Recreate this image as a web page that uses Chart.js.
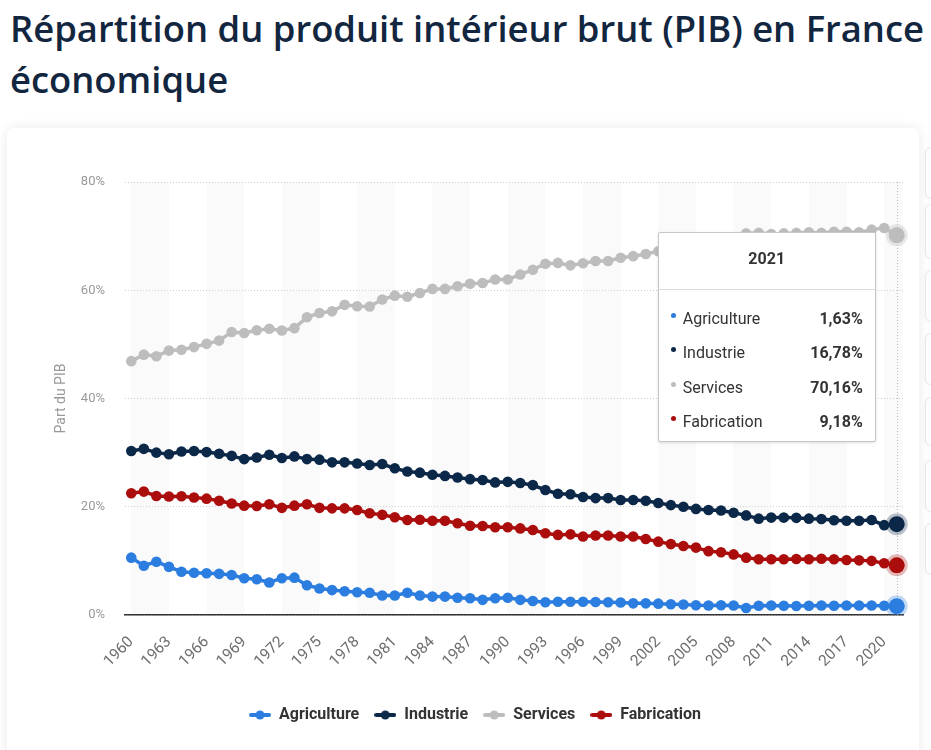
<!DOCTYPE html>
<html lang="fr">
<head>
<meta charset="utf-8">
<script src="https://cdn.jsdelivr.net/npm/chart.js@4.4.0/dist/chart.umd.min.js"></script>
<style>
html,body{margin:0;padding:0;background:#fff;width:931px;height:750px;overflow:hidden;font-family:Roboto,sans-serif;}
#title{position:absolute;left:10px;top:3px;margin:0;font-family:"Open Sans",sans-serif;font-weight:600;font-size:36.4px;line-height:51px;color:#12263f;white-space:nowrap;}
#card{position:absolute;left:7px;top:128px;width:912px;height:640px;background:#fff;border-radius:6px;box-shadow:0 0 12px rgba(0,0,0,0.09);}
#chart{position:absolute;left:0;top:0;}
.side{position:absolute;left:925px;width:30px;background:#fff;border:1px solid #e9e9e9;border-radius:6px;box-shadow:0 0 4px rgba(0,0,0,0.04);}
#tt{position:absolute;width:218px;box-sizing:border-box;background:#fff;border:1px solid #c6c6c6;border-radius:2px;box-shadow:0 1px 3px rgba(0,0,0,0.12);font-family:Roboto,sans-serif;color:#333;display:none;}
#tt .t{height:57px;box-sizing:border-box;padding-top:13px;line-height:26px;text-align:center;font-weight:bold;font-size:16px;border-bottom:1px solid #dcdcdc;}
#tt .b{padding:11px 12px 2px 12px;}
#tt .r{height:34.5px;display:flex;align-items:center;font-size:16px;}
#tt .d{width:5px;height:5px;border-radius:50%;margin-right:7px;margin-top:-6px;}
#tt .l{flex:1;}
#tt .v{font-weight:bold;}
</style>
</head>
<body>
<h1 id="title">Répartition du produit intérieur brut (PIB) en France<br>économique</h1>
<div class="side" style="top:147px;height:50px"></div>
<div class="side" style="top:204px;height:53px"></div>
<div class="side" style="top:270px;height:50px"></div>
<div class="side" style="top:333px;height:50px"></div>
<div class="side" style="top:397px;height:47px"></div>
<div class="side" style="top:460px;height:50px"></div>
<div class="side" style="top:523px;height:50px"></div>
<div id="card">
  <canvas id="chart" width="912" height="622" style="width:912px;height:622px"></canvas>
  <div id="tt"></div>
</div>
<script>
const years = [1960,1961,1962,1963,1964,1965,1966,1967,1968,1969,1970,1971,1972,1973,1974,1975,1976,1977,1978,1979,1980,1981,1982,1983,1984,1985,1986,1987,1988,1989,1990,1991,1992,1993,1994,1995,1996,1997,1998,1999,2000,2001,2002,2003,2004,2005,2006,2007,2008,2009,2010,2011,2012,2013,2014,2015,2016,2017,2018,2019,2020,2021];

const agriculture = [10.6,9.1,9.85,8.9,8.0,7.8,7.7,7.6,7.4,6.8,6.6,6.0,6.8,6.9,5.5,4.9,4.6,4.4,4.2,4.1,3.6,3.6,4.1,3.6,3.4,3.4,3.2,3.1,2.8,3.1,3.2,2.8,2.6,2.35,2.45,2.45,2.45,2.4,2.35,2.3,2.15,2.15,2.1,2.0,1.95,1.8,1.75,1.8,1.75,1.3,1.7,1.75,1.7,1.65,1.7,1.75,1.7,1.75,1.75,1.75,1.7,1.63];

const industrie = [30.3,30.7,30.0,29.7,30.2,30.3,30.1,29.8,29.4,28.8,29.1,29.6,29.0,29.3,28.8,28.7,28.2,28.2,28.0,27.7,27.9,27.1,26.5,26.3,25.9,25.7,25.4,25.1,24.95,24.5,24.6,24.4,24.0,23.1,22.4,22.3,21.8,21.6,21.6,21.25,21.25,21.1,20.7,20.3,20.0,19.6,19.4,19.3,18.9,18.4,17.8,18.0,18.0,17.95,17.8,17.75,17.5,17.4,17.4,17.55,16.6,16.78];

const services = [46.9,48.1,47.8,48.85,49.0,49.5,50.1,50.7,52.3,52.1,52.6,52.9,52.55,53.0,55.0,55.8,56.1,57.3,57.05,57.0,58.3,59.0,58.8,59.5,60.25,60.25,60.75,61.2,61.35,62.0,62.0,62.9,63.8,64.9,65.05,64.6,65.0,65.4,65.4,66.0,66.3,66.7,67.2,67.5,68.0,68.3,68.5,68.8,69.4,70.5,70.6,70.4,70.5,70.6,70.7,70.6,70.8,70.8,70.7,71.2,71.5,70.16];

const fabrication = [22.5,22.8,22.0,21.9,21.95,21.7,21.5,21.1,20.6,20.2,20.15,20.45,19.8,20.2,20.45,19.8,19.7,19.7,19.4,18.8,18.5,18.05,17.55,17.6,17.4,17.4,16.95,16.5,16.45,16.2,16.2,16.0,15.7,15.1,14.8,14.9,14.5,14.7,14.7,14.5,14.5,14.05,13.55,13.1,12.75,12.45,11.8,11.6,11.2,10.6,10.3,10.3,10.3,10.35,10.3,10.4,10.3,10.15,10.1,10.0,9.55,9.18];

const seriesNames = ['Agriculture','Industrie','Services','Fabrication'];
const yTicks = [0,20,40,60,80];

const colors = ['#2b7de0','#0c2848','#bdbdbd','#ab0d0d'];
const halos = ['rgba(43,125,224,0.28)','rgba(12,40,72,0.28)','rgba(189,189,189,0.35)','rgba(171,13,13,0.28)'];
const seriesData = [agriculture, industrie, services, fabrication];

function legendIcon(color){
  const c = document.createElement('canvas');
  c.width = 22; c.height = 10;
  const g = c.getContext('2d');
  g.strokeStyle = color; g.lineWidth = 4; g.lineCap = 'round';
  g.beginPath(); g.moveTo(2,5); g.lineTo(20,5); g.stroke();
  g.fillStyle = color; g.beginPath(); g.arc(11,5,4.5,0,Math.PI*2); g.fill();
  return c;
}
const icons = colors.map(legendIcon);

const datasets = seriesNames.map((name,i)=>({
  label:name,
  data:seriesData[i],
  borderColor:colors[i],
  backgroundColor:colors[i],
  borderWidth:3.5,
  pointRadius:5.3,
  pointBorderWidth:0,
  pointBackgroundColor:colors[i],
  pointHoverRadius:8,
  pointHoverBorderWidth:6,
  pointHoverBorderColor:halos[i],
  pointHoverBackgroundColor:colors[i],
  tension:0
}));

const stripePlugin = {
  id:'stripes',
  beforeDraw(chart){
    const {ctx, chartArea:a, scales:{x}} = chart;
    ctx.save();
    ctx.fillStyle = '#fafafa';
    for(let k=0;k<years.length;k+=6){
      const x0 = x.getPixelForValue(k);
      const x1 = Math.min(x.getPixelForValue(k+3), a.right);
      ctx.fillRect(x0, a.top, x1-x0, a.bottom-a.top);
    }
    ctx.restore();
  },
  beforeDatasetsDraw(chart){
    const act = chart.getActiveElements();
    if(!act.length) return;
    const {ctx, chartArea:a} = chart;
    const px = act[0].element.x;
    ctx.save();
    ctx.strokeStyle = '#bbbbbb'; ctx.lineWidth = 1; ctx.setLineDash([1,2]);
    ctx.beginPath(); ctx.moveTo(Math.round(px)+0.5, a.top); ctx.lineTo(Math.round(px)+0.5, a.bottom); ctx.stroke();
    ctx.restore();
  }
};

function fmt(v){ return v.toFixed(2).replace('.',',') + '%'; }

const chart = new Chart(document.getElementById('chart'), {
  type:'line',
  data:{labels:years.map(String), datasets},
  plugins:[stripePlugin],
  options:{
    responsive:false,
    animation:false,
    events:[],
    layout:{padding:{top:54,left:40,right:16,bottom:17}},
    plugins:{
      tooltip:{enabled:false},
      legend:{
        position:'bottom',
        labels:{
          usePointStyle:true,
          pointStyleWidth:22,
          padding:15,
          color:'#333',
          font:{family:'Roboto',size:16,weight:'bold'},
          generateLabels(ch){
            const items = Chart.defaults.plugins.legend.labels.generateLabels(ch);
            items.forEach((it,i)=>{ it.pointStyle = icons[i]; it.fontColor = '#333'; });
            return items;
          }
        }
      }
    },
    scales:{
      x:{
        offset:true,
        grid:{display:false,drawTicks:false},
        border:{display:true,color:'#333',width:1.5},
        ticks:{
          autoSkip:false,maxRotation:45,minRotation:45,padding:18,
          color:'#6e6e6e',font:{family:'Roboto',size:15.5},
          callback:(v,i)=> (i%3===0 ? years[i] : null)
        },
        afterFit(s){ s.height = 77; }
      },
      y:{
        min:0,max:80,
        afterBuildTicks(s){ s.ticks = yTicks.map(v=>({value:v})); },
        ticks:{padding:20,color:'#999',font:{family:'Roboto',size:13},callback:v=>v+'%'},
        grid:{color:'#cfcfcf',drawTicks:false,lineWidth:1},
        border:{display:false,dash:[1,2]},
        title:{display:true,text:'Part du PIB',color:'#999',font:{family:'Roboto',size:14},padding:{top:6,bottom:0}},
        afterFit(s){ s.width = 78; }
      }
    }
  }
});

const last = years.length-1;
const active = seriesNames.map((n,i)=>({datasetIndex:i,index:last}));
chart.setActiveElements(active);
chart.update();

function renderTooltip(){
  const act = chart.getActiveElements();
  const tt = document.getElementById('tt');
  if(!act.length){ tt.style.display='none'; return; }
  const idx = act[0].index;
  const px = act[0].element.x;
  let html = '<div class="t">'+years[idx]+'</div><div class="b">';
  act.forEach(a=>{
    const i = a.datasetIndex;
    html += '<div class="r"><span class="d" style="background:'+colors[i]+'"></span><span class="l">'+seriesNames[i]+'</span><span class="v">'+fmt(seriesData[i][idx])+'</span></div>';
  });
  html += '</div>';
  tt.innerHTML = html;
  tt.style.display = 'block';
  tt.style.left = (px - 21 - 218) + 'px';
  tt.style.top = (chart.chartArea.top + 50) + 'px';
}
renderTooltip();
</script>
</body>
</html>
